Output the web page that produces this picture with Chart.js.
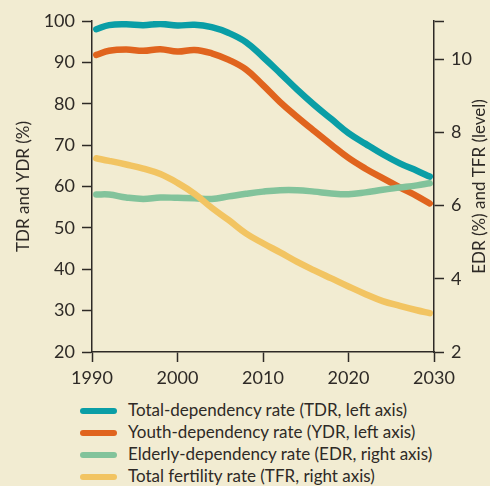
<!DOCTYPE html>
<html>
<head>
<meta charset="utf-8">
<script src="https://cdn.jsdelivr.net/npm/chart.js@4"></script>
<style>
  body { margin: 0; background: #f2ecd2; }
  #wrap { position: relative; width: 490px; height: 486px; background: #f2ecd2; overflow: hidden; }
  #chartBox { position: absolute; left: 0; top: 0; width: 490px; height: 395px; }
  #legend { position: absolute; left: 80px; top: 399px; font-family: Lato, sans-serif; font-size: 17px; color: #2e2a26; }
  #legend div { height: 22px; line-height: 22px; white-space: nowrap; }
  #legend span.sw { display: inline-block; width: 37px; height: 6px; border-radius: 3px; vertical-align: middle; margin-right: 11px; position: relative; top: -1px; }
</style>
</head>
<body>
<div id="wrap">
  <div id="chartBox"><canvas id="myChart"></canvas></div>
  <div id="legend"></div>
</div>
<script>
var years = [1990.5, 1992, 1994, 1996, 1998, 2000, 2002, 2004, 2006, 2008, 2010,
	2012, 2014, 2016, 2018, 2020, 2022, 2024, 2026, 2028, 2029.5];

// left axis (%)
var tdr = [98.0, 99.0, 99.2, 99.0, 99.3, 98.9, 99.1, 98.5, 97.1, 94.9, 91.3,
	87.4, 83.4, 79.7, 76.3, 72.9, 70.3, 67.8, 65.6, 63.8, 62.4];
var ydr = [91.8, 92.8, 93.1, 92.8, 93.2, 92.6, 93.0, 92.2, 90.6, 88.3, 84.5,
	80.4, 76.8, 73.4, 70.1, 66.9, 64.3, 62.0, 59.8, 57.7, 55.9];

// right axis (EDR %, TFR level)
var edr = [6.30, 6.30, 6.22, 6.18, 6.22, 6.21, 6.20, 6.18, 6.25, 6.32, 6.38,
	6.42, 6.42, 6.38, 6.33, 6.31, 6.36, 6.43, 6.49, 6.55, 6.61];
var tfr = [7.29, 7.22, 7.12, 7.01, 6.86, 6.62, 6.32, 5.94, 5.60, 5.24, 4.97,
	4.72, 4.46, 4.23, 4.01, 3.79, 3.58, 3.39, 3.26, 3.14, 3.06];

var xTicks = [1990, 2000, 2010, 2020, 2030];
var leftTicks = [20, 30, 40, 50, 60, 70, 80, 90, 100];
var rightTicks = [2, 4, 6, 8, 10];

var labels = [
	"Total-dependency rate (TDR, left axis)",
	"Youth-dependency rate (YDR, left axis)",
	"Elderly-dependency rate (EDR, right axis)",
	"Total fertility rate (TFR, right axis)"
];
var colors = ["#0a9ea6", "#e0641e", "#82c39b", "#f2c462"];

var ink = "#2e2a26";
var font = "Lato, sans-serif";

function pts(arr) {
	return years.map(function (y, i) { return { x: y, y: arr[i] }; });
}

function line(i, arr, axis, order) {
	return {
		label: labels[i],
		data: pts(arr),
		yAxisID: axis,
		borderColor: colors[i],
		backgroundColor: colors[i],
		borderWidth: 6.5,
		borderCapStyle: "round",
		borderJoinStyle: "round",
		pointRadius: 0,
		tension: 0.4,
		order: order
	};
}

// axis titles, both reading bottom to top
var axisTitles = {
	id: "axisTitles",
	afterDraw: function (chart) {
		var ctx = chart.ctx;
		var mid = (chart.chartArea.top + chart.chartArea.bottom) / 2;
		ctx.save();
		ctx.fillStyle = ink;
		ctx.font = "17px " + font;
		ctx.textAlign = "center";
		ctx.textBaseline = "middle";
		[[24, "TDR and YDR (%)"], [480, "EDR (%) and TFR (level)"]].forEach(function (t) {
			ctx.save();
			ctx.translate(t[0], mid);
			ctx.rotate(-Math.PI / 2);
			ctx.fillText(t[1], 0, 0);
			ctx.restore();
		});
		ctx.restore();
	}
};

var axisLook = {
	border: { display: true, color: ink, width: 1.5 },
	grid: { drawOnChartArea: false, drawTicks: true, tickLength: 10, tickColor: ink, tickWidth: 1.5 }
};

new Chart("myChart", {
	type: "line",
	data: {
		datasets: [
			line(0, tdr, "yL", 1),
			line(1, ydr, "yL", 3),
			line(2, edr, "yR", 2),
			line(3, tfr, "yR", 0)
		]
	},
	options: {
		responsive: true,
		maintainAspectRatio: false,
		animation: false,
		layout: { padding: { top: 21, left: 0, right: 0, bottom: 0 } },
		plugins: { legend: { display: false }, tooltip: { enabled: false } },
		scales: {
			x: Object.assign({
				type: "linear",
				min: 1990,
				max: 2030,
				afterBuildTicks: function (s) { s.ticks = xTicks.map(function (v) { return { value: v }; }); },
				afterFit: function (s) { s.height = 43; },
				ticks: {
					color: ink,
					font: { family: font, size: 18 },
					padding: 5,
					maxRotation: 0,
					callback: function (v) { return String(v); }
				}
			}, axisLook),
			yL: Object.assign({
				position: "left",
				min: 20,
				max: 100,
				afterBuildTicks: function (s) { s.ticks = leftTicks.map(function (v) { return { value: v }; }); },
				afterFit: function (s) { s.width = 92; },
				ticks: { color: ink, font: { family: font, size: 18 }, padding: 7 }
			}, axisLook),
			yR: Object.assign({
				position: "right",
				min: 2,
				max: 11.04,
				afterBuildTicks: function (s) {
					s.ticks = rightTicks.concat([s.max]).map(function (v) { return { value: v }; });
				},
				afterFit: function (s) { s.width = 56; },
				ticks: {
					color: ink,
					font: { family: font, size: 18 },
					padding: 7,
					callback: function (v) { return rightTicks.indexOf(v) >= 0 ? v : ""; }
				}
			}, axisLook)
		}
	},
	plugins: [axisTitles]
});

// legend rows under the plot
var legend = document.getElementById("legend");
labels.forEach(function (name, i) {
	var row = document.createElement("div");
	var sw = document.createElement("span");
	sw.className = "sw";
	sw.style.background = colors[i];
	row.appendChild(sw);
	row.appendChild(document.createTextNode(name));
	legend.appendChild(row);
});
</script>
</body>
</html>
